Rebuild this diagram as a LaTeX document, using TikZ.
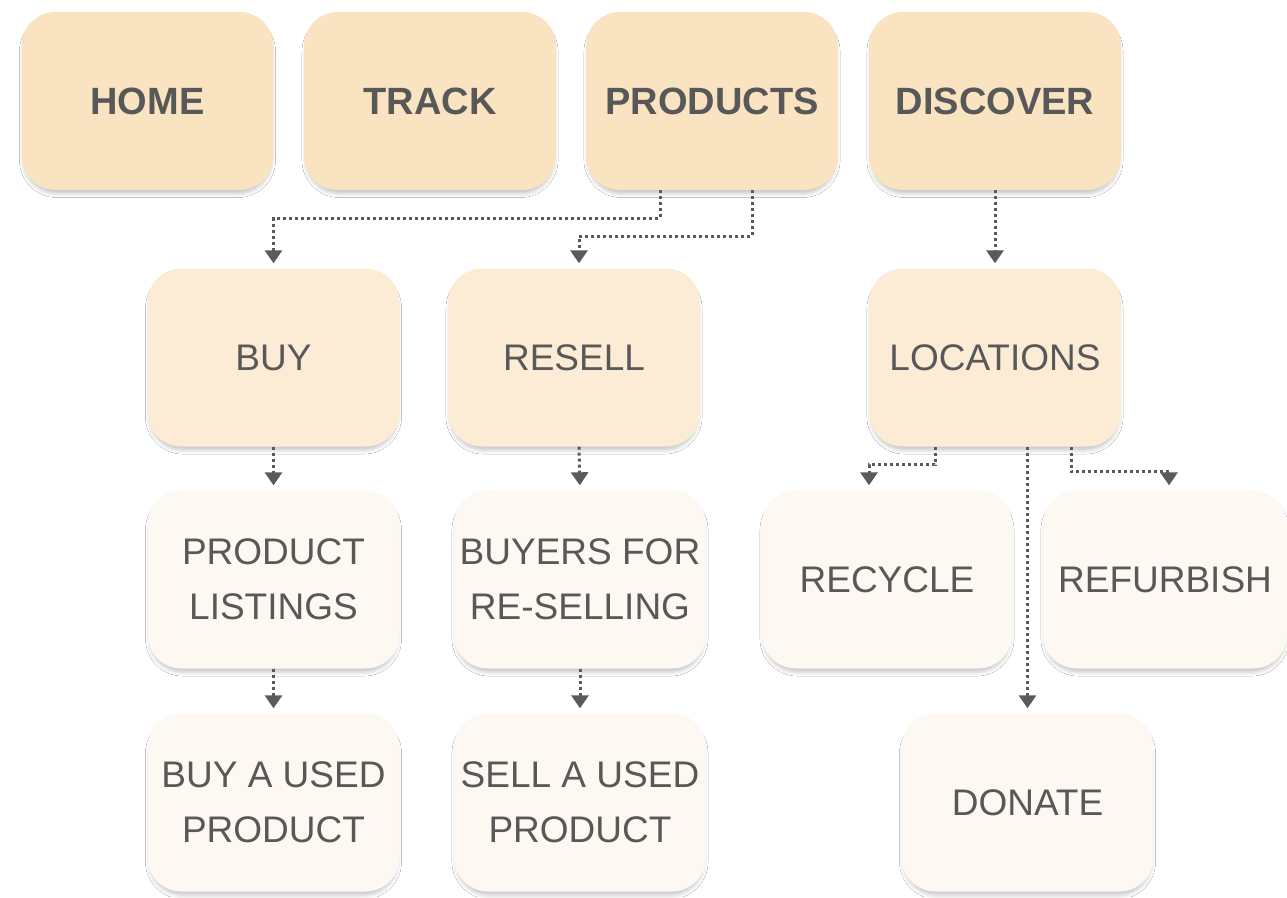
\documentclass[tikz,border=0pt]{standalone}
\usepackage{fontspec}
\setmainfont{Liberation Sans}
\usetikzlibrary{arrows.meta,shadows.blur}
\definecolor{tabfill}{RGB}{249,227,193}
\definecolor{subfill}{RGB}{252,236,213}
\definecolor{leaffill}{RGB}{253,249,242}
\definecolor{ink}{RGB}{88,88,88}
\definecolor{linkgray}{RGB}{90,90,90}
\tikzset{
  card/.style={rounded corners=34pt, minimum width=252pt, minimum height=178pt,
    inner sep=0pt, align=center, text=ink,
    blur shadow={shadow xshift=0pt, shadow yshift=-5pt, shadow blur radius=4pt,
      shadow opacity=22, shadow scale=0.985},
    font=\fontsize{37}{55}\selectfont},
  tab/.style={card, fill=tabfill, font=\fontsize{38}{55}\selectfont\bfseries},
  sub/.style={card, fill=subfill},
  leaf/.style={card, fill=leaffill},
  link/.style={draw=linkgray, line width=3pt, dash pattern=on 3pt off 3pt,
    -{Triangle[width=17pt,length=13pt]}, shorten >=5pt}
}
\begin{document}
\begin{tikzpicture}[x=1pt,y=-1pt]
  \useasboundingbox[fill=white] (0,0) rectangle (1287,897);

  % top navigation tabs
  \node[tab] (home) at (147.5,101) {HOME};
  \node[tab] (track) at (430,101) {TRACK};
  \node[tab] (prod) at (712,101) {PRODUCTS};
  \node[tab] (disc) at (995,101) {DISCOVER};

  % second level
  \node[sub] (buy) at (273.5,357.5) {BUY};
  \node[sub] (resell) at (574,357.5) {RESELL};
  \node[sub] (loc) at (995,357.5) {LOCATIONS};

  % third level
  \node[leaf] (list) at (273.5,579.5) {PRODUCT\\LISTINGS};
  \node[leaf] (buyers) at (580,579.5) {BUYERS FOR\\RE-SELLING};
  \node[leaf, minimum width=250pt] (recycle) at (887,579.5) {RECYCLE};
  \node[leaf, minimum width=244pt] (refurb) at (1165,579.5) {REFURBISH};

  % fourth level
  \node[leaf] (buyused) at (273.5,802.5) {BUY A USED\\PRODUCT};
  \node[leaf] (sellused) at (580,802.5) {SELL A USED\\PRODUCT};
  \node[leaf] (donate) at (1027.5,802.5) {DONATE};

  % connectors
  \draw[link] ([xshift=-52pt]prod.south) -- ++(0,28) -| (buy.north);
  \draw[link] ([xshift=40pt]prod.south) -- ++(0,46) -| ([xshift=5pt]resell.north);
  \draw[link] (disc.south) -- (loc.north);
  \draw[link] (buy.south) -- (list.north);
  \draw[link] (list.south) -- (buyused.north);
  \draw[link] ([xshift=5pt]resell.south) -- (buyers.north);
  \draw[link] (buyers.south) -- (sellused.north);
  \draw[link] ([xshift=-60pt]loc.south) -- ++(0,18) -| ([xshift=-18pt]recycle.north);
  \draw[link] ([xshift=32.5pt]loc.south) -- (donate.north);
  \draw[link] ([xshift=76pt]loc.south) -- ++(0,25) -| ([xshift=4pt]refurb.north);
\end{tikzpicture}
\end{document}
